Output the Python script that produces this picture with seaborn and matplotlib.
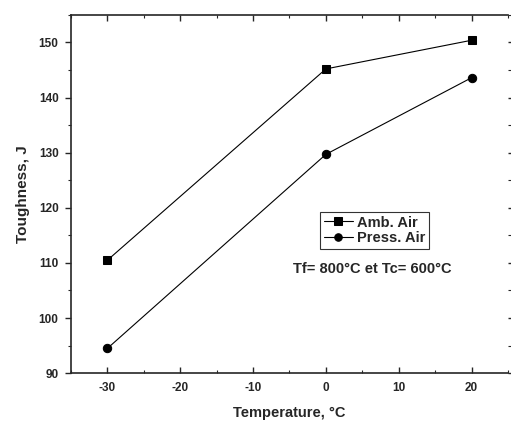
import pandas as pd
import numpy as np
import seaborn as sns
import matplotlib.pyplot as plt
from matplotlib.ticker import MultipleLocator

# data
temperature = [-30, 0, 20]
amb_air = [110.5, 145.2, 150.4]
press_air = [94.5, 129.7, 143.6]

df = pd.DataFrame({
    'Temperature': temperature * 2,
    'Toughness': amb_air + press_air,
    'Série': ['Amb. Air'] * 3 + ['Press. Air'] * 3,
})

sns.set_style("ticks")
plt.rcParams['font.family'] = ['Liberation Sans', 'DejaVu Sans']
plt.rcParams['font.weight'] = 'bold'
plt.rcParams['axes.unicode_minus'] = False

fig = plt.figure(figsize=(5.11, 4.26), dpi=100)
ax = fig.add_axes([0.139, 0.124, 0.855, 0.841])

sns.lineplot(
    data=df, x='Temperature', y='Toughness', hue='Série', style='Série',
    palette=['black', 'black'], markers={'Amb. Air': 's', 'Press. Air': 'o'},
    dashes=False, markersize=6, linewidth=0.8, markeredgecolor='black', ax=ax
)

ax.set_xlim(-35, 25)
ax.set_ylim(90, 155)
ax.xaxis.set_major_locator(MultipleLocator(10))
ax.xaxis.set_minor_locator(MultipleLocator(5))
ax.yaxis.set_minor_locator(MultipleLocator(5))
ax.set_yticks(np.arange(90, 151, 10))

ax.tick_params(axis='x', which='both', direction='in', top=True, labelsize=8.5, pad=6)
ax.tick_params(axis='y', which='both', direction='out', right=True, labelsize=8.5, pad=5)
ax.tick_params(which='major', length=4, width=1)
ax.tick_params(which='minor', length=2.5, width=0.8)
for s in ax.spines.values():
    s.set_linewidth(1.2)
ax.spines['right'].set_visible(False)

ax.set_xlabel('Temperature, °C', fontsize=10.5, fontweight='bold', labelpad=9)
ax.set_ylabel('Toughness, J', fontsize=11, fontweight='bold', labelpad=6)

leg = ax.legend(loc='upper left', bbox_to_anchor=(0.57, 0.45), fontsize=10.5,
                frameon=True, fancybox=False, edgecolor='black',
                handlelength=2.0, borderpad=0.25, labelspacing=0.1,
                handletextpad=0.3, markerscale=0.9, borderaxespad=0)
leg.get_frame().set_linewidth(0.8)

ax.text(0.69, 0.29, 'Tf= 800°C et Tc= 600°C', transform=ax.transAxes,
        ha='center', va='center', fontsize=10.5, fontweight='bold')

plt.savefig('out.png', dpi=100)
